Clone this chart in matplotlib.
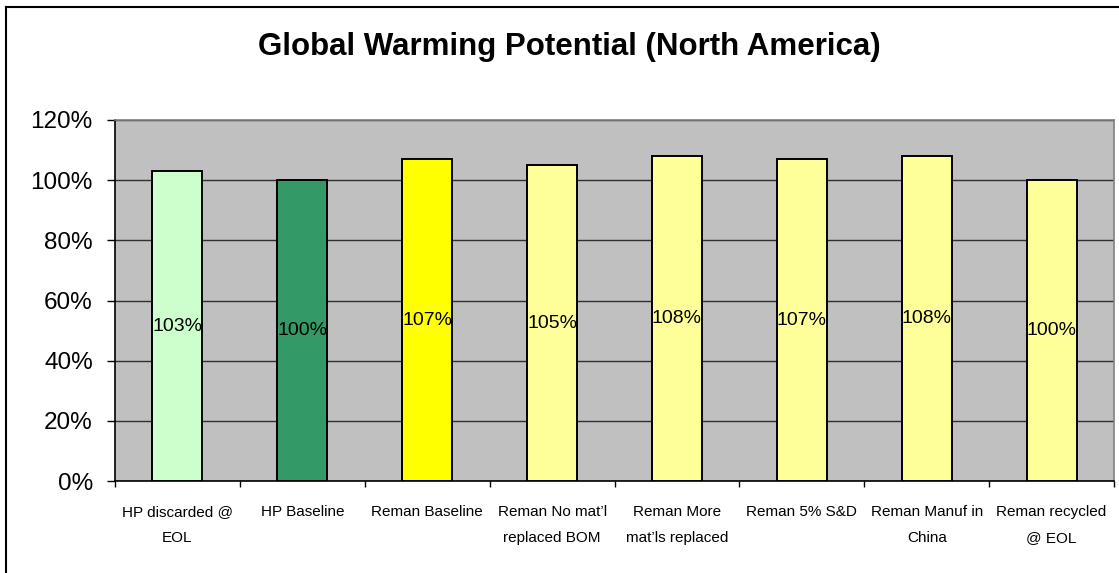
import matplotlib.pyplot as plt
from matplotlib.lines import Line2D
from matplotlib.ticker import FuncFormatter

# GWP of each end-of-life / reman scenario, relative to the HP baseline (%)
scenarios = [
    "HP discarded @\nEOL",
    "HP Baseline",
    "Reman Baseline",
    "Reman No mat\u2019l\nreplaced BOM",
    "Reman More\nmat\u2019ls replaced",
    "Reman 5% S&D",
    "Reman Manuf in\nChina",
    "Reman recycled\n@ EOL",
]
gwp_pct = [103, 100, 107, 105, 108, 107, 108, 100]
bar_colors = ["#CCFFCC", "#339966", "#FFFF00", "#FFFF99",
              "#FFFF99", "#FFFF99", "#FFFF99", "#FFFF99"]
yticks = [0, 20, 40, 60, 80, 100, 120]

plt.rcParams["font.family"] = ["Liberation Sans", "DejaVu Sans"]

W, H = 1119, 573
fig = plt.figure(figsize=(W / 100, H / 100), dpi=100)
ax = fig.add_axes([115 / W, 1 - 481 / H, (1114 - 115) / W, (481 - 120) / H])

x = range(len(scenarios))
ax.bar(x, gwp_pct, width=0.4, color=bar_colors, edgecolor="black",
       linewidth=1.4, zorder=3)

# value labels centred in each bar
for xi, v in zip(x, gwp_pct):
    ax.text(xi, v / 2, f"{v}%", ha="center", va="center",
            fontsize=14, zorder=4)

ax.set_facecolor("#C0C0C0")
ax.set_xlim(-0.5, len(scenarios) - 0.5)
ax.set_ylim(0, 120)
ax.set_yticks(yticks)
ax.yaxis.set_major_formatter(FuncFormatter(lambda v, _: f"{v:.0f}%"))
ax.yaxis.grid(True, color="#303030", linewidth=1.0, zorder=1)
ax.tick_params(axis="y", labelsize=17.5, length=6, width=1, direction="out", pad=10)

# category ticks sit on the boundaries between bars
ax.set_xticks([i - 0.5 for i in range(len(scenarios) + 1)])
ax.set_xticklabels([])
ax.set_xticks(list(x), minor=True)
ax.set_xticklabels(scenarios, minor=True, fontsize=11,
                   linespacing=2.15, va="top")
ax.tick_params(axis="x", which="major", length=4, width=1)
ax.tick_params(axis="x", which="minor", length=0, pad=17)

for side in ("top", "right"):
    ax.spines[side].set_color("#808080")
ax.spines["left"].set_color("black")
ax.spines["bottom"].set_color("black")
for s in ax.spines.values():
    s.set_linewidth(1.2)

fig.text(569 / W, 1 - 47 / H, "Global Warming Potential (North America)",
         ha="center", va="center", fontsize=22.5, fontweight="bold")

# chart border (left and top edges fall inside the image)
fig.add_artist(Line2D([5.5 / W, 5.5 / W], [0, 1 - 7 / H],
                      transform=fig.transFigure, color="black", linewidth=1.5))
fig.add_artist(Line2D([5.5 / W, 1], [1 - 7 / H, 1 - 7 / H],
                      transform=fig.transFigure, color="black", linewidth=1.5))

fig.savefig("out.png", dpi=100)
